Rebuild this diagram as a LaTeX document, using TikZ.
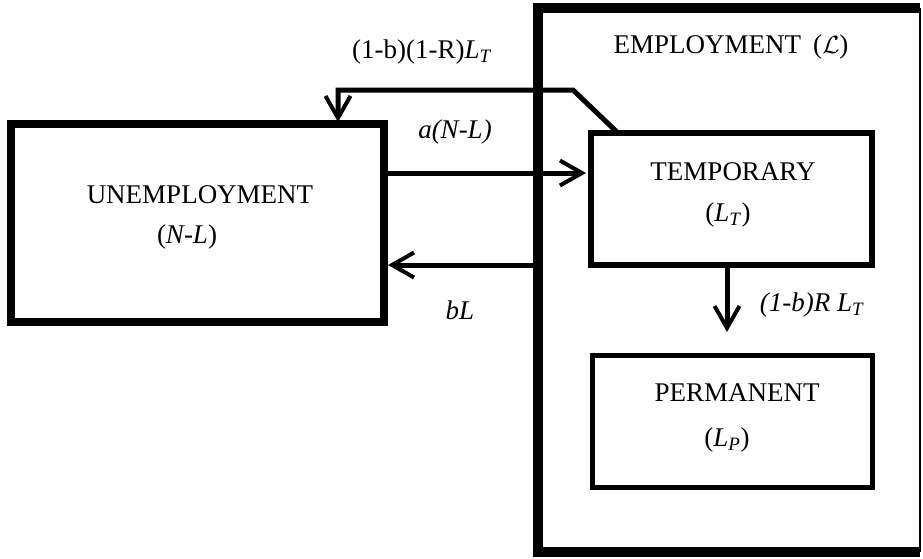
\documentclass[tikz,border=0pt]{standalone}
\usepackage{fontspec}
\setmainfont{Liberation Serif}
\usetikzlibrary{arrows.meta}
\newcommand{\subit}[1]{\textsubscript{\textit{#1}}}
\tikzset{
  box/.style={draw=black, inner sep=0pt, outer sep=0pt},
  txt/.style={inner sep=0pt, font=\fontsize{27}{31}\selectfont},
  arr/.style={line width=5pt, -{Straight Barb[length=22pt,width=25pt,line width=4pt]}},
  flow/.style={line width=5pt}
}
\begin{document}
\begin{tikzpicture}[x=1pt,y=-1pt]
\useasboundingbox (0,0) rectangle (923,558);
% employment frame
\node[inner sep=0pt, outer sep=0pt, minimum width=382pt, minimum height=544.5pt] (emp) at (729,279.75) {};
\draw[line width=10pt] (emp.north east) -- (emp.north west) -- (emp.south west) -- (emp.south east);
\draw[line width=2.5pt] (emp.north east) -- (emp.south east);
% boxes
\node[box, line width=8pt, minimum width=373pt, minimum height=198pt] (unemp) at (197.5,223) {};
\node[box, line width=5.5pt, minimum width=281pt, minimum height=132pt] (temp) at (731.5,199) {};
\node[box, line width=5pt, minimum width=280pt, minimum height=132pt] (perm) at (732,421) {};
% texts
\node[txt] (tUn) at (200,195) {UNEMPLOYMENT};
\node[txt] (tUn2) at (187,237) {(\textit{N-L})};
\node[txt] (tTe) at (733,172) {TEMPORARY};
\node[txt] (tTe2) at (728,215) {(\textit{L}\subit{T})};
\node[txt] (tPe) at (737,393) {PERMANENT};
\node[txt] (tPe2) at (727,440) {(\textit{L}\subit{P})};
\node[txt] (tEm) at (731,47) {EMPLOYMENT\hspace{0.45em}($\mathcal{L}$)};
\node[txt] (lFb) at (422,52) {(1-b)(1-R)\textit{L}\subit{T}};
\node[txt] (lA) at (455,132) {\textit{a(N-L)}};
\node[txt] (lB) at (460,310) {\textit{bL}};
\node[txt] (lR) at (812,305) {\textit{(1-b)R L}\subit{T}};
% helper coordinates
\coordinate (ya) at (0,173);
\coordinate (yb) at (0,265);
\coordinate (xd) at (727,0);
\coordinate (xf) at (338,0);
\coordinate (k1) at (573,90);
\coordinate (k2) at (338,90);
\coordinate (fs) at (618,133);
% connectors
\draw[arr, shorten >=5pt] (unemp.east |- ya) -- (temp.west |- ya);
\draw[arr, shorten >=4pt] (emp.west |- yb) -- (unemp.east |- yb);
\draw[arr, shorten >=23pt] (xd |- temp.south) -- (xd |- perm.north);
\draw[arr, shorten >=2pt] (fs) -- (k1) -- (k2) -- (xf |- unemp.north);
\end{tikzpicture}
\end{document}
